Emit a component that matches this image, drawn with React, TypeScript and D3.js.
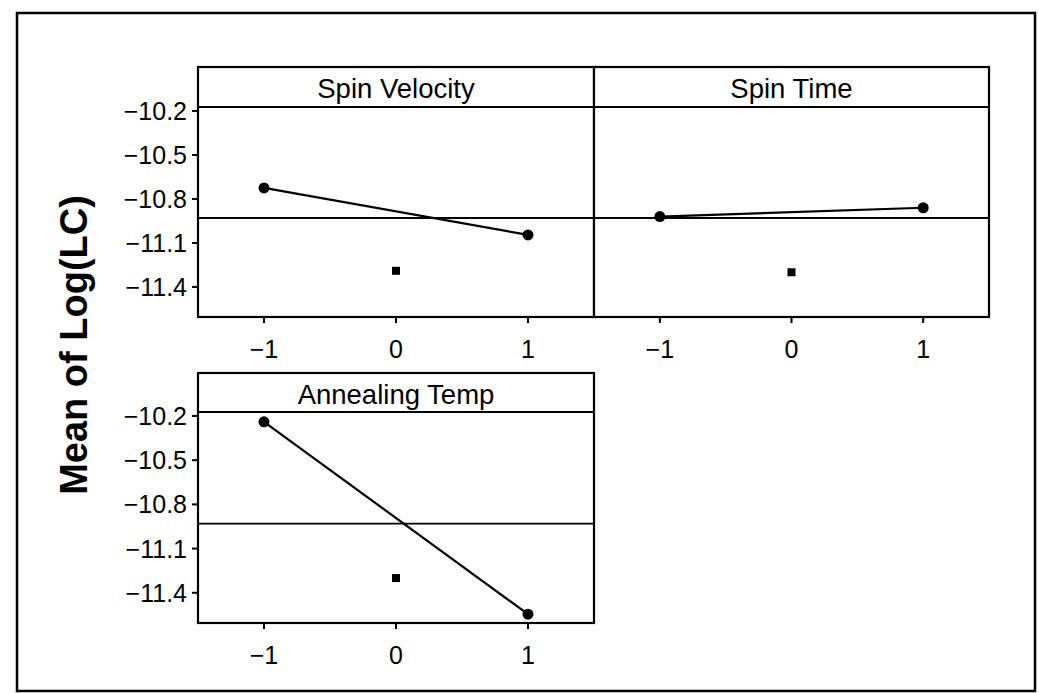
import React from "react";
import * as d3 from "d3";

const factors = ["Spin Velocity", "Spin Time", "Annealing Temp"];
const levels = [-1, 0, 1];
const lowMeans = [-10.725, -10.92, -10.24];
const highMeans = [-11.045, -10.86, -11.545];
const centerMeans = [-11.29, -11.3, -11.3];
const grandMean = -10.93;
const yTicks = [-10.2, -10.5, -10.8, -11.1, -11.4];
const xTicks = [-1, 0, 1];
const yLabel = "Mean of Log(LC)";

const FONT = "'Liberation Sans', Arial, sans-serif";

// panel layout: [left, top, headerBottom, bottom, right]
const panels = [
  { x0: 198, x1: 594, top: 67, head: 107, bottom: 317, yAxis: true },
  { x0: 594, x1: 989, top: 67, head: 107, bottom: 317, yAxis: false },
  { x0: 198, x1: 594, top: 373, head: 412, bottom: 623, yAxis: true },
];

const fmt = (v: number) => (v < 0 ? "\u2212" + Math.abs(v).toString() : v.toString());

export default function App() {
  return (
    <div style={{ position: "absolute", left: 0, top: 0 }}>
      <svg width={1039} height={693} style={{ display: "block", background: "#fff" }}>
        <rect x={17} y={13} width={1018} height={678} fill="none" stroke="#000" strokeWidth={2.5} />
        <text
          transform={`translate(87,345) rotate(-90)`}
          textAnchor="middle"
          fontFamily={FONT}
          fontSize={38}
          fontWeight="bold"
          fill="#000"
        >
          {yLabel}
        </text>
        {factors.map((name, i) => {
          const p = panels[i];
          const x = d3.scaleLinear().domain([-1.5, 1.5]).range([p.x0, p.x1]);
          const y = d3.scaleLinear().domain([-11.605, -10.173]).range([p.bottom, p.head]);
          const pts: [number, number][] = [
            [levels[0], lowMeans[i]],
            [levels[2], highMeans[i]],
          ];
          const line = d3
            .line<[number, number]>()
            .x((d) => x(d[0]))
            .y((d) => y(d[1]));
          return (
            <g key={name}>
              <rect x={p.x0} y={p.top} width={p.x1 - p.x0} height={p.bottom - p.top} fill="#fff" stroke="#000" strokeWidth={2.2} />
              <line x1={p.x0} x2={p.x1} y1={p.head} y2={p.head} stroke="#000" strokeWidth={2} />
              <text
                x={(p.x0 + p.x1) / 2}
                y={p.top + 31}
                textAnchor="middle"
                fontFamily={FONT}
                fontSize={27.5}
                fill="#000"
              >
                {name}
              </text>
              <line x1={p.x0} x2={p.x1} y1={y(grandMean)} y2={y(grandMean)} stroke="#000" strokeWidth={1.8} />
              <path d={line(pts) || ""} fill="none" stroke="#000" strokeWidth={2.2} />
              {pts.map((d, k) => (
                <circle key={k} cx={x(d[0])} cy={y(d[1])} r={5.5} fill="#000" />
              ))}
              <rect x={x(levels[1]) - 4} y={y(centerMeans[i]) - 4} width={8} height={8} fill="#000" />
              {xTicks.map((t) => (
                <g key={t}>
                  <line x1={x(t)} x2={x(t)} y1={p.bottom} y2={p.bottom + 6} stroke="#000" strokeWidth={2} />
                  <text
                    x={x(t)}
                    y={p.bottom + 41}
                    textAnchor="middle"
                    fontFamily={FONT}
                    fontSize={25}
                    fill="#000"
                  >
                    {fmt(t)}
                  </text>
                </g>
              ))}
              {p.yAxis &&
                yTicks.map((t) => (
                  <g key={t}>
                    <line x1={p.x0 - 6} x2={p.x0} y1={y(t)} y2={y(t)} stroke="#000" strokeWidth={2} />
                    <text
                      x={p.x0 - 11}
                      y={y(t)}
                      dy="0.36em"
                      textAnchor="end"
                      fontFamily={FONT}
                      fontSize={25}
                      fill="#000"
                    >
                      {fmt(t)}
                    </text>
                  </g>
                ))}
            </g>
          );
        })}
      </svg>
    </div>
  );
}
